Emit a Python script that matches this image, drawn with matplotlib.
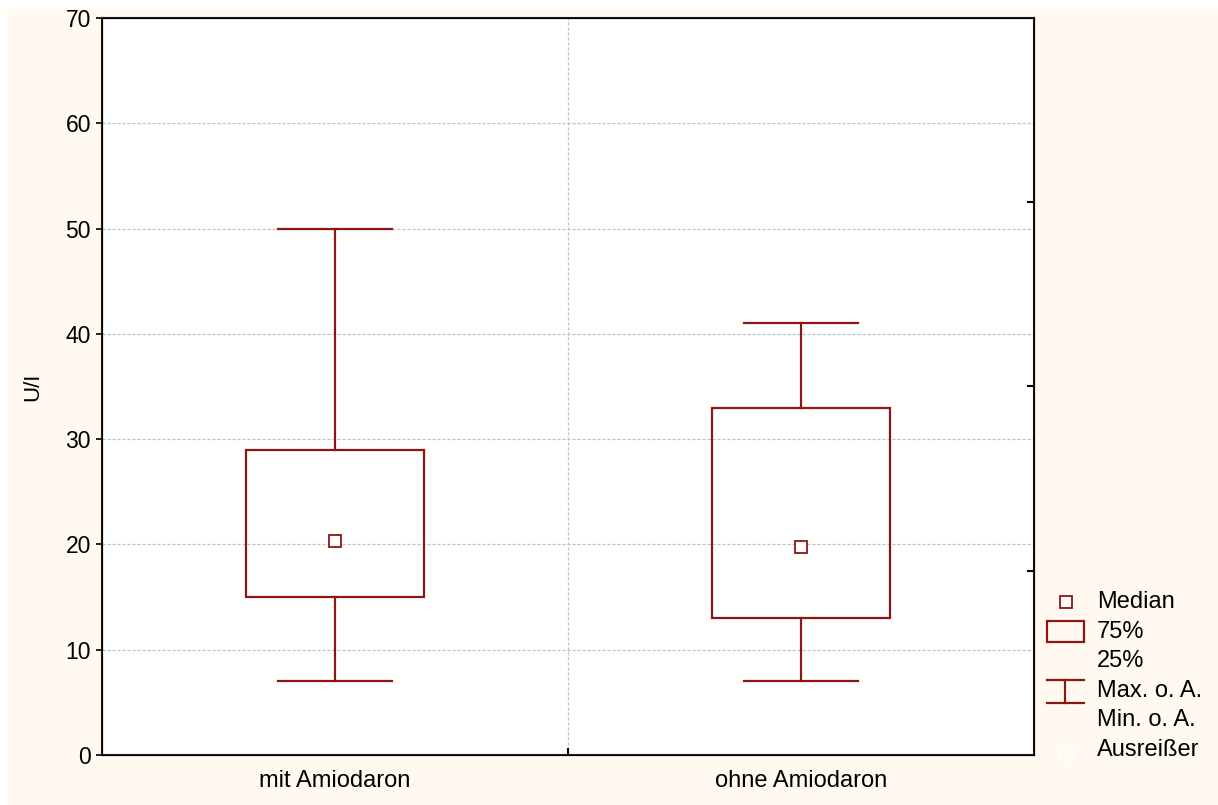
import matplotlib.pyplot as plt
from matplotlib.lines import Line2D
from matplotlib.patches import Rectangle

plt.rcParams['font.family'] = ['Liberation Sans', 'DejaVu Sans']

# data (U/l)
groups = ['mit Amiodaron', 'ohne Amiodaron']
medians = [20.3, 19.8]
q25 = [15.0, 13.0]
q75 = [29.0, 33.0]
w_min = [7.0, 7.0]
w_max = [50.0, 41.0]

dark_red = '#8f1515'
cream = '#fff9ef'

W, H = 1218, 805
fig = plt.figure(figsize=(W / 100, H / 100), dpi=100, facecolor='white')
fig.add_artist(Rectangle((8 / W, 0), 1, 1 - 9 / H, transform=fig.transFigure,
                         facecolor=cream, edgecolor='none', zorder=-10))

ax = fig.add_axes([102 / W, 1 - 755 / H, (1034 - 102) / W, (755 - 18) / H])
ax.set_facecolor('white')

pos = [1, 2]
box_w = 0.38
cap_w = 0.243
for i, x in enumerate(pos):
    ax.add_patch(Rectangle((x - box_w / 2, q25[i]), box_w, q75[i] - q25[i],
                           facecolor='none', edgecolor=dark_red, lw=1.6, zorder=3))
    ax.plot([x, x], [q75[i], w_max[i]], color=dark_red, lw=1.6, zorder=3)
    ax.plot([x, x], [w_min[i], q25[i]], color=dark_red, lw=1.6, zorder=3)
    ax.plot([x - cap_w / 2, x + cap_w / 2], [w_max[i]] * 2, color=dark_red, lw=1.6, zorder=3)
    ax.plot([x - cap_w / 2, x + cap_w / 2], [w_min[i]] * 2, color=dark_red, lw=1.6, zorder=3)
    ax.plot(x, medians[i], marker='s', ms=9, mfc='white', mec=dark_red, mew=1.3, zorder=4)

ax.set_xlim(0.5, 2.5)
ax.set_ylim(0, 70)
ax.set_yticks(range(0, 71, 10))
ax.set_xticks(pos)
ax.set_xticklabels(groups, fontsize=17)
ax.tick_params(axis='y', labelsize=16.5, length=4, width=1.2, direction='out', pad=4)
ax.tick_params(axis='x', length=0, pad=11)
ax.set_xticks([1.5], minor=True)
ax.tick_params(axis='x', which='minor', direction='in', length=5, width=1.5)
ax.set_ylabel('U/I', fontsize=16)
ax.yaxis.set_label_coords(-0.063, 0.5)

for y in range(10, 70, 10):
    ax.axhline(y, color='#c0c0c0', ls=(0, (2.5, 1.5)), lw=0.9, zorder=1)
ax.axvline(1.5, color='#c0c0c0', ls=(0, (2.5, 1.5)), lw=0.9, zorder=1)

for s in ax.spines.values():
    s.set_linewidth(1.5)
    s.set_color('#1a1a1a')

ax2 = ax.twinx()
ax2.set_ylim(0, 70)
ax2.set_yticks([17.5, 35, 52.5])
ax2.tick_params(axis='y', direction='in', length=5, width=1.5, labelright=False)


def fx(px):
    return px / W


def fy(py):
    return 1 - py / H


# legend drawn by hand outside the axes
fig.add_artist(Line2D([fx(1066)], [fy(602)], marker='s', ms=9, mfc='white',
                      mec=dark_red, mew=1.3, transform=fig.transFigure))
fig.add_artist(Rectangle((fx(1047), fy(642)), fx(1084) - fx(1047), fy(621) - fy(642),
                         transform=fig.transFigure, facecolor='none',
                         edgecolor=dark_red, lw=1.6))
fig.add_artist(Line2D([fx(1047), fx(1084)], [fy(680)] * 2, color=dark_red, lw=1.6,
                      transform=fig.transFigure))
fig.add_artist(Line2D([fx(1047), fx(1084)], [fy(703)] * 2, color=dark_red, lw=1.6,
                      transform=fig.transFigure))
fig.add_artist(Line2D([fx(1065), fx(1065)], [fy(680), fy(703)], color=dark_red, lw=1.6,
                      transform=fig.transFigure))
fig.add_artist(Line2D([fx(1066)], [fy(753)], marker='o', ms=10, mfc='none',
                      mec='white', mew=1.2, transform=fig.transFigure))

legend_labels = ['Median', '75%', '25%', 'Max. o. A.', 'Min. o. A.', 'Ausreißer']
legend_y = [602, 632, 661, 691, 720, 750]
for lab, yy in zip(legend_labels, legend_y):
    fig.text(fx(1097), fy(yy), lab, fontsize=17, va='center', ha='left')

fig.savefig('out.png', dpi=100, facecolor='white')
